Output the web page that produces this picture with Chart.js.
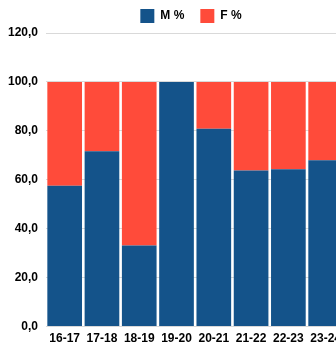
<!DOCTYPE html>
<html>
<head>
<meta charset="utf-8">
<script src="https://cdn.jsdelivr.net/npm/chart.js@4/dist/chart.umd.min.js"></script>
<style>
html,body{margin:0;padding:0;overflow:hidden;background:#fff;}
#wrap{position:relative;width:346px;height:349px;}
</style>
</head>
<body>
<div id="wrap"><canvas id="c" width="346" height="349"></canvas></div>
<script>
const categories = ["16-17","17-18","18-19","19-20","20-21","21-22","22-23","23-24"];
const mValues = [57.6, 71.7, 33.1, 100.0, 80.9, 63.8, 64.3, 68.0];
const fValues = [42.4, 28.3, 66.9, 0.0, 19.1, 36.2, 35.7, 32.0];
const seriesNames = ["M %", "F %"];
const yTicks = [0, 20, 40, 60, 80, 100, 120];

const font = {family: "'Liberation Sans', Arial, sans-serif", weight: "bold", size: 12};
const legendShift = {
  id: 'legendShift',
  afterUpdate(chart) {
    const lg = chart.legend;
    if (!lg) return;
    const dx = 18;
    lg.left += dx; lg.right += dx;
    if (lg.legendHitBoxes) lg.legendHitBoxes.forEach(h => { h.left += dx; });
  }
};
new Chart(document.getElementById('c'), {
  type: 'bar',
  data: {
    labels: categories,
    datasets: [
      {label: seriesNames[0], data: mValues, backgroundColor: '#14538a', barPercentage: 0.93, categoryPercentage: 1},
      {label: seriesNames[1], data: fValues, backgroundColor: '#ff4b3a', barPercentage: 0.93, categoryPercentage: 1}
    ]
  },
  options: {
    responsive: false,
    animation: false,
    layout: {padding: {left: 0, right: 0, top: -7, bottom: -2}},
    plugins: {
      legend: {
        position: 'top',
        labels: {boxWidth: 14, boxHeight: 14, font: font, color: '#000', padding: 16}
      },
      tooltip: {enabled: false}
    },
    scales: {
      x: {
        stacked: true,
        grid: {display: false, drawTicks: false},
        border: {display: true, color: '#d9d9d9'},
        ticks: {font: font, color: '#000', maxRotation: 0, padding: 5}
      },
      y: {
        stacked: true,
        min: yTicks[0],
        max: yTicks[yTicks.length - 1],
        afterBuildTicks: (axis) => { axis.ticks = yTicks.map(v => ({value: v})); },
        grid: {color: '#d9d9d9', drawTicks: false},
        border: {display: false},
        ticks: {font: font, color: '#000', padding: 8, callback: v => v.toFixed(1).replace('.', ',')}
      }
    }
  },
  plugins: [legendShift]
});
</script>
</body>
</html>
